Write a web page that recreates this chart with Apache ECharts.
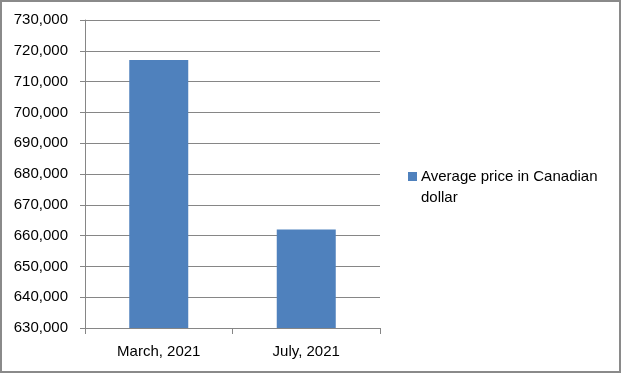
<!DOCTYPE html>
<html><head><meta charset="utf-8">
<script src="https://cdn.jsdelivr.net/npm/echarts@6/dist/echarts.min.js"></script>
<style>html,body{margin:0;padding:0;background:#fff}#c{width:621px;height:373px}</style>
</head><body><div id="c"></div>
<script>
const categories = ['March, 2021', 'July, 2021'];
const seriesName = 'Average price in Canadian dollar';
const values = [717000, 662000];
const yMin = 630000, yMax = 730000, yStep = 10000;

const chart = echarts.init(document.getElementById('c'), null, {renderer: 'canvas'});
const font = 'Liberation Sans';
chart.setOption({
  animation: false,
  backgroundColor: '#fff',
  textStyle: {fontFamily: font},
  grid: {left: 85, right: 241, top: 20, bottom: 45, containLabel: false},
  graphic: [{
    type: 'rect', shape: {x: 1, y: 1, width: 619, height: 371},
    style: {fill: 'none', stroke: '#8a8a8a', lineWidth: 2}, silent: true
  }],
  legend: {
    orient: 'vertical', left: 403, top: 140,
    itemWidth: 9, itemHeight: 9, icon: 'rect', itemGap: 4,
    formatter: n => ' \n' + n.replace(/ (\S+)$/, '\n$1'),
    textStyle: {fontFamily: font, fontSize: 15, color: '#000', lineHeight: 21, padding: [0, 0, 0, -1]},
    data: [seriesName]
  },
  xAxis: {
    type: 'category', data: categories,
    axisLine: {lineStyle: {color: '#868686', width: 1}},
    axisTick: {show: true, length: 6, lineStyle: {color: '#868686'}},
    axisLabel: {color: '#000', fontSize: 15, margin: 16, fontFamily: font}
  },
  yAxis: {
    type: 'value', min: yMin, max: yMax, interval: yStep,
    axisLine: {show: true, lineStyle: {color: '#868686', width: 1}},
    axisTick: {show: true, length: 5, lineStyle: {color: '#868686'}},
    splitLine: {lineStyle: {color: '#868686', width: 1}},
    axisLabel: {color: '#000', fontSize: 15, margin: 17, fontFamily: font,
      formatter: v => v.toLocaleString('en-US')}
  },
  series: [{
    name: seriesName, type: 'bar', data: values,
    barCategoryGap: '60%',
    itemStyle: {color: '#4F81BD'}
  }]
});
</script></body></html>
